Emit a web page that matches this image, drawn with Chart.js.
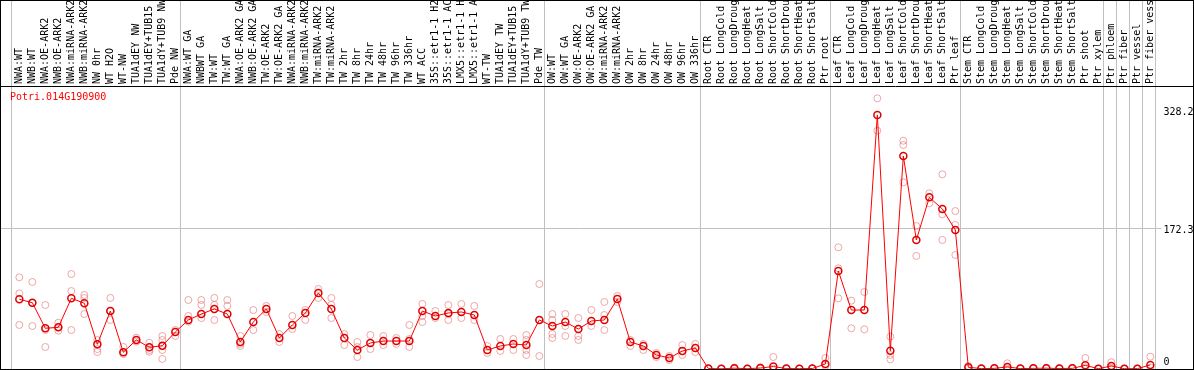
<!DOCTYPE html>
<html><head><meta charset="utf-8">
<style>html,body{margin:0;padding:0;background:#fff;overflow:hidden}#wrap{width:1194px;height:370px}</style>
<script src="https://cdn.jsdelivr.net/npm/chart.js@4/dist/chart.umd.min.js"></script>
</head><body><div id="wrap"><canvas id="c" width="1194" height="370"></canvas></div>
<script>
const geneName = 'Potri.014G190900';
const categories = [
"NWA:WT","NWB:WT","NWA:OE-ARK2","NWB:OE-ARK2","NWA:miRNA-ARK2","NWB:miRNA-ARK2","NW 0hr","WT H2O","WT-NW","TUA1dEY NW","TUA1dEY+TUB15 NW","TUA1dY+TUB9 NW","Pde NW",
"NWA:WT GA","NWBWT GA","TW:WT","TW:WT GA","NWA:OE-ARK2 GA","NWB:OE-ARK2 GA","TW:OE-ARK2","TW:OE-ARK2 GA","NWA:miRNA-ARK2 GA","NWB:miRNA-ARK2 GA","TW:miRNA-ARK2","TW:miRNA-ARK2 GA","TW 2hr","TW 8hr","TW 24hr","TW 48hr","TW 96hr","TW 336hr","WT ACC","35S::etr1-1 H2O","35S::etr1-1 ACC","LMX5::etr1-1 H2O","LMX5::etr1-1 ACC","WT-TW","TUA1dEY TW","TUA1dEY+TUB15 TW","TUA1dY+TUB9 TW","Pde TW",
"OW:WT","OW:WT GA","OW:OE-ARK2","OW:OE-ARK2 GA","OW:miRNA-ARK2","OW:miRNA-ARK2 GA","OW 2hr","OW 8hr","OW 24hr","OW 48hr","OW 96hr","OW 336hr",
"Root CTR","Root LongCold","Root LongDrought","Root LongHeat","Root LongSalt","Root ShortCold","Root ShortDrought","Root ShortHeat","Root ShortSalt","Ptr root",
"Leaf CTR","Leaf LongCold","Leaf LongDrought","Leaf LongHeat","Leaf LongSalt","Leaf ShortCold","Leaf ShortDrought","Leaf ShortHeat","Leaf ShortSalt","Ptr leaf",
"Stem CTR","Stem LongCold","Stem LongDrought","Stem LongHeat","Stem LongSalt","Stem ShortCold","Stem ShortDrought","Stem ShortHeat","Stem ShortSalt","Ptr shoot",
"Ptr xylem","Ptr phloem","Ptr fiber","Ptr vessel","Ptr fiber vessel"];
const meanValues = [
85.5,81.3,49.9,51.1,86.7,80.6,30.3,71.1,20.5,35.6,26.6,28.6,45.4,
60.1,67.4,73.6,67.4,33.1,57.6,73.6,38.0,54.0,68.7,93.2,73.6,38.0,23.3,31.9,34.3,34.3,34.3,71.1,65.0,68.7,69.9,66.2,23.3,28.2,30.7,29.4,60.1,
52.7,57.6,49.0,58.9,60.1,85.8,33.1,28.2,17.2,13.5,22.1,25.8,
0.5,0.3,1.0,0.4,1.2,3.0,0.5,0.4,0.6,6.1,
120.2,72.3,72.3,311.5,22.4,261.2,158.2,210.5,196.2,170.4,
2.1,0.5,0.8,2.5,0.5,0.8,1.0,0.6,0.8,4.5,
0.4,3.7,0.4,0.4,5.0];
const replicateValues = [
[112.4,92.8,54.0],[106.7,80.9,52.7],[78.5,47.8,27.0],[56.8,51.5,47.0],[116.5,95.6,47.8],[90.7,87.1,67.4],[35.6,24.5,20.8],[87.1,71.1,60.1],[27.0,18.4],[38.4,33.5],[32.2,23.3,21.2],[40.5,35.6,28.2,23.3,12.3],[47.8,40.5],
[84.6,65.0,58.0],[84.6,78.5,62.5],[87.1,78.5,60.1],[84.6,77.3],[40.5,30.7,28.2],[72.3,47.8],[77.3,69.9],[42.9,33.1],[65.0,49.0],[72.3,60.1],[98.1,87.1],[87.1,78.5,62.5],[42.9,29.4],[33.1,27.0,14.7],[41.7,24.5],[40.5,29.4],[38.0,30.7],[54.0,36.8,27.0],[79.7,65.0,57.6],[71.1,62.5],[78.5,67.4,60.1],[79.7,62.5],[77.3,60.1],[28.2,19.6],[36.8,22.1],[36.8,23.3],[41.7,35.6,23.3,17.2],[104.2,60.1,15.9],
[67.4,60.1,42.9,38.0],[67.4,52.7,40.5],[62.5,40.5,35.6],[72.3,52.7],[82.2,66.2,47.8],[89.5,82.2],[35.6,28.2],[30.7,23.3],[19.6,14.7],[15.9,11.0],[29.4,17.2],[30.7,20.8],
[0.2,0.8],[0.1,0.5],[0.3,1.8],[0.2,0.6],[0.5,2.0],[14.7,0.5],[0.2,0.8],[0.2,0.6],[0.3,0.9],[13.5,3.7],
[149.2,123.5,86.7],[83.8,49.9],[94.4,48.7],[331.9,292.2],[39.7,17.2,11.9],[279.9,274.7,228.9],[175.3,138.6],[215.4,203.2],[238.7,189.7,158.2],[193.7,176.6,139.8],
[0.5,3.7],[0.2,0.8],[0.3,1.3],[7.0,0.5],[0.2,0.8],[0.3,1.3],[0.5,1.5],[0.2,1.0],[0.3,1.3],[13.5,2.0],
[0.1,0.7],[8.3,1.5],[0.1,0.7],[0.1,0.7],[15.1,2.0]];
const groupStarts = [0,13,41,53,63,73,84,85,86,87,88];
const yTickValues = [0,172.3,328.2];
const gridValue = 172.3;

const boundaryOffset = 0.68;
const fontStr = '10px "DejaVu Sans Mono", monospace';
const monoFont = {family:'"DejaVu Sans Mono", monospace', size:10};

const meanData = meanValues.map((v,i)=>({x:i,y:v}));
const repData = [];
replicateValues.forEach((arr,i)=>arr.forEach(v=>repData.push({x:i,y:v})));

const framePlugin = {
  id:'frame',
  beforeDraw(chart){
    const c = chart.ctx, xs = chart.scales.x, ys = chart.scales.y, a = chart.chartArea;
    c.save();
    c.fillStyle='#fff'; c.fillRect(0,0,chart.width,chart.height);
    c.strokeStyle='#c0c0c0'; c.lineWidth=1;
    groupStarts.forEach(k=>{
      const px = Math.round(xs.getPixelForValue(k-boundaryOffset))+0.5;
      c.beginPath(); c.moveTo(px,0); c.lineTo(px,chart.height); c.stroke();
    });
    const gy = Math.round(ys.getPixelForValue(gridValue))+0.5;
    c.beginPath(); c.moveTo(0,gy); c.lineTo(a.right+7,gy); c.stroke();
    c.fillStyle='#000'; c.font=fontStr; c.textAlign='left'; c.textBaseline='middle';
    categories.forEach((lab,i)=>{
      c.save();
      c.translate(Math.round(xs.getPixelForValue(i)), a.top-2);
      c.rotate(-Math.PI/2);
      c.fillText(lab,0,0);
      c.restore();
    });
    c.restore();
  },
  afterDraw(chart){
    const c = chart.ctx, a = chart.chartArea;
    c.save();
    c.strokeStyle='#000'; c.lineWidth=1;
    c.strokeRect(0.5,0.5,chart.width-1,chart.height-1);
    c.beginPath(); c.moveTo(0,Math.round(a.top)+0.5); c.lineTo(chart.width,Math.round(a.top)+0.5); c.stroke();
    c.fillStyle='#ff0000';
    c.font=fontStr;
    c.textBaseline='middle'; c.textAlign='left';
    c.fillText(geneName, 10, a.top+11);
    c.restore();
  }
};

new Chart(document.getElementById('c'), {
  data:{datasets:[
    {type:'line', label:'mean', data:meanData, borderColor:'#ff0000', borderWidth:1, tension:0,
     pointRadius:3.5, pointHoverRadius:3.5, pointBorderColor:'#e00000', pointBackgroundColor:'rgba(0,0,0,0)', pointBorderWidth:1.5, clip:false},
    {type:'scatter', label:'replicates', data:repData, showLine:false,
     pointRadius:3.5, pointHoverRadius:3.5, pointBorderColor:'rgba(228,110,110,0.6)', pointBackgroundColor:'rgba(0,0,0,0)', pointBorderWidth:1, clip:false}
  ]},
  options:{
    responsive:false, animation:false, devicePixelRatio:1,
    layout:{autoPadding:false, padding:{left:10.5, top:86, bottom:1, right:0}},
    plugins:{legend:{display:false}, tooltip:{enabled:false}},
    scales:{
      x:{type:'linear', display:false, min:-boundaryOffset, max:88-boundaryOffset},
      y:{type:'linear', position:'left', min:0, max:347,
         afterBuildTicks:s=>{s.ticks=[{value:gridValue}];},
         afterFit:s=>{s.width=0; s.paddingTop=0; s.paddingBottom=0;},
         ticks:{display:false},
         grid:{display:false}, border:{display:false}},
      yl:{type:'linear', position:'right', min:-9.19, max:362.3,
         afterBuildTicks:s=>{s.ticks=yTickValues.map(v=>({value:v}));},
         afterFit:s=>{s.width=39.5; s.paddingTop=0; s.paddingBottom=0;},
         ticks:{color:'#000', font:monoFont, crossAlign:'near', padding:9, callback:v=>String(v)},
         grid:{display:false, drawTicks:false}, border:{display:false}}
    }
  },
  plugins:[framePlugin]
});
</script></body></html>
